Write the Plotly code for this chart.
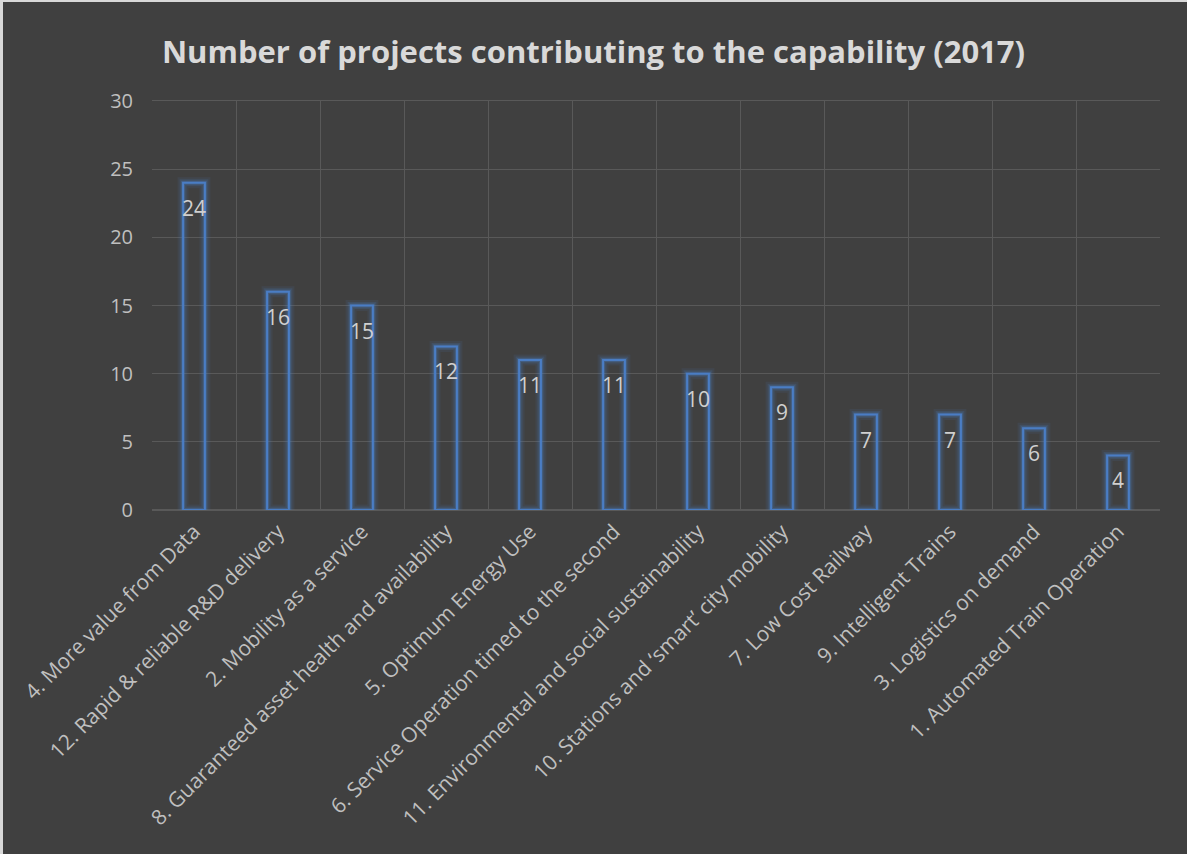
import plotly.graph_objects as go

capabilities = [
    "4. More value from Data",
    "12. Rapid & reliable R&D delivery",
    "2. Mobility as a service",
    "8. Guaranteed asset health and availability",
    "5. Optimum Energy Use",
    "6. Service Operation timed to the second",
    "11. Environmental and social sustainability",
    "10. Stations and \u2018smart\u2019 city mobility",
    "7. Low Cost Railway",
    "9. Intelligent Trains",
    "3. Logistics on demand",
    "1. Automated Train Operation",
]
projects = [24, 16, 15, 12, 11, 11, 10, 9, 7, 7, 6, 4]

bg = "#404040"
grid = "#595959"
txt = "#bfbfbf"
blue = "#4a7dc4"
font = "Open Sans"

fig = go.Figure()
# soft glow behind the outline
for w, a in [(11, 0.10), (7, 0.18), (4, 0.3)]:
    fig.add_trace(go.Bar(x=capabilities, y=projects, width=0.26,
                         marker=dict(color="rgba(0,0,0,0)",
                                     line=dict(color=f"rgba(74,125,196,{a})", width=w)),
                         hoverinfo="skip", showlegend=False))
fig.add_trace(go.Bar(x=capabilities, y=projects, width=0.26,
                     marker=dict(color="rgba(0,0,0,0)",
                                 line=dict(color=blue, width=2)),
                     showlegend=False))

for c, v in zip(capabilities, projects):
    fig.add_annotation(x=c, y=v, text=str(v), showarrow=False, yshift=-25,
                       yanchor="middle", font=dict(family=font, size=21, color="#d0d0d0"))

# plot area is 1008 x 409 px
fig.update_layout(
    width=1187, height=854,
    paper_bgcolor=bg, plot_bgcolor=bg,
    barmode="overlay",
    margin=dict(l=152, r=27, t=101, b=344),
    title=dict(text="<b>Number of projects contributing to the capability (2017)</b>",
               x=0.5, xanchor="center", y=0.939, yanchor="middle",
               font=dict(family=font, size=31, color="#d9d9d9")),
    xaxis=dict(type="category", tickson="boundaries", showgrid=True, gridcolor=grid,
               gridwidth=1, tickangle=-45, ticks="", showline=True, linecolor=grid,
               automargin=False,
               tickfont=dict(family=font, size=21, color=txt), mirror=True),
    yaxis=dict(range=[0, 30], dtick=5, showgrid=True, gridcolor=grid, gridwidth=1,
               zeroline=True, zerolinecolor=grid, ticks="", automargin=False,
               ticklabelstandoff=18,
               tickfont=dict(family=font, size=20, color=txt)),
    shapes=[
        dict(type="line", xref="paper", yref="paper",
             x0=-150.5 / 1008, x1=-150.5 / 1008, y0=-344 / 409, y1=1 + 101 / 409,
             line=dict(color="#d9d9d9", width=3)),
        dict(type="line", xref="paper", yref="paper",
             x0=-152 / 1008, x1=1 + 27 / 1008, y0=1 + 100 / 409, y1=1 + 100 / 409,
             line=dict(color="#d9d9d9", width=2)),
    ],
)

fig.write_html("out.html", config={"displayModeBar": False},
               post_script="document.body.style.margin='0';")
